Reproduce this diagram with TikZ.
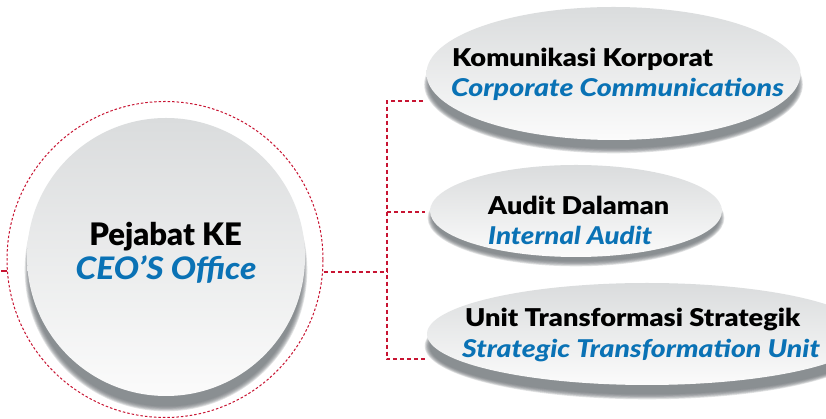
\documentclass[tikz,border=0pt]{standalone}
\usepackage{fontspec}
\usepackage{graphicx}
\setmainfont{Lato}[BoldFont={Lato Black}, BoldItalicFont={Lato Black Italic}]
\usetikzlibrary{shapes.geometric}
\definecolor{ringred}{RGB}{200,20,50}
\definecolor{txtblue}{RGB}{10,114,181}
\definecolor{shtop}{RGB}{218,220,221}
\definecolor{shbot}{RGB}{251,251,251}
\definecolor{shadowc}{RGB}{110,115,119}
\tikzset{
  ringstyle/.style={circle, draw=ringred, line width=1pt, dash pattern=on 2.5pt off 2pt, inner sep=0pt, minimum size=316pt},
  conn/.style={draw=ringred, line width=1.8pt, dash pattern=on 4pt off 3pt},
  disc/.style={circle, inner sep=0pt, top color=shtop, bottom color=shbot, draw=none},
  oval/.style={ellipse, inner sep=0pt, top color=shtop, bottom color=shbot, draw=none},
  bigblack/.style={inner sep=0pt, font=\fontsize{31}{34}\selectfont\bfseries},
  bigblue/.style={inner sep=0pt, text=txtblue, font=\fontsize{31}{34}\selectfont\bfseries\itshape},
  smblack/.style={inner sep=0pt, anchor=base west, font=\fontsize{24.5}{28}\selectfont\bfseries},
  smblue/.style={inner sep=0pt, anchor=base west, text=txtblue, font=\fontsize{24.5}{28}\selectfont\bfseries\itshape}
}
\newcommand\sx[2]{\scalebox{#1}[1]{#2}}
\newcommand\softshadow[5]{%
  \foreach \k in {0,...,6}{\fill[shadowc, opacity=0.2] (#1,#2-#5) ellipse ({#3-2.5+0.8*\k} and {#4-2.5+0.8*\k});}}
\begin{document}
\begin{tikzpicture}[x=1pt,y=1pt]
\useasboundingbox (0,0) rectangle (826,419);
\clip (0,0) rectangle (826,419);
\fill[white] (0,0) rectangle (826,419);
% shadows
\softshadow{166}{162}{139}{139}{13}
\softshadow{613.5}{345.5}{187}{66.5}{11}
\softshadow{576}{208}{146}{46}{7}
\softshadow{647}{85}{220}{51}{12}
% shapes
\node[disc, minimum size=278pt] (ceo) at (166,162) {};
\node[oval, minimum width=374pt, minimum height=133pt] (e1) at (613.5,345.5) {};
\node[oval, minimum width=292pt, minimum height=92pt] (e2) at (576,208) {};
\node[oval, minimum width=440pt, minimum height=102pt] (e3) at (647,85) {};
\node[ringstyle] (ring) at (165,159.5) {};
% texts
\node[bigblack, anchor=base] (t0a) at (165.5,173) {\sx{1.0}{Pejabat KE}};
\node[bigblue, anchor=base] (t0b) at (166,139) {\sx{1.08}{CEO’S Office}};
\node[smblack] (t1a) at (452,352.3) {\sx{1.11}{Komunikasi Korporat}};
\node[smblue] (t1b) at (451,322) {\sx{1.17}{Corporate Communications}};
\node[smblack] (t2a) at (488,204) {\sx{1.10}{Audit Dalaman}};
\node[smblue] (t2b) at (488,174) {\sx{1.13}{Internal Audit}};
\node[smblack] (t3a) at (465,92) {\sx{1.11}{Unit Transformasi Strategik}};
\node[smblue] (t3b) at (462,61) {\sx{1.16}{Strategic Transformation Unit}};
% connectors
\coordinate (j) at (387,147);
\coordinate (v1) at (387,318.3);
\coordinate (c1) at (423,318.3);
\coordinate (v2) at (387,207.3);
\coordinate (c2) at (425,207.3);
\coordinate (v3) at (387,59.7);
\coordinate (c3) at (425,59.7);
\coordinate (ls) at (1,148);
\draw[conn] (c1) -- (v1) -- (v3) -- (c3);
\draw[conn] (v2) -- (c2);
\draw[conn] (j -| ring.east) -- (j);
\draw[draw=ringred, line width=1.8pt] (ls) -- (ls -| ring.west);
\end{tikzpicture}
\end{document}
